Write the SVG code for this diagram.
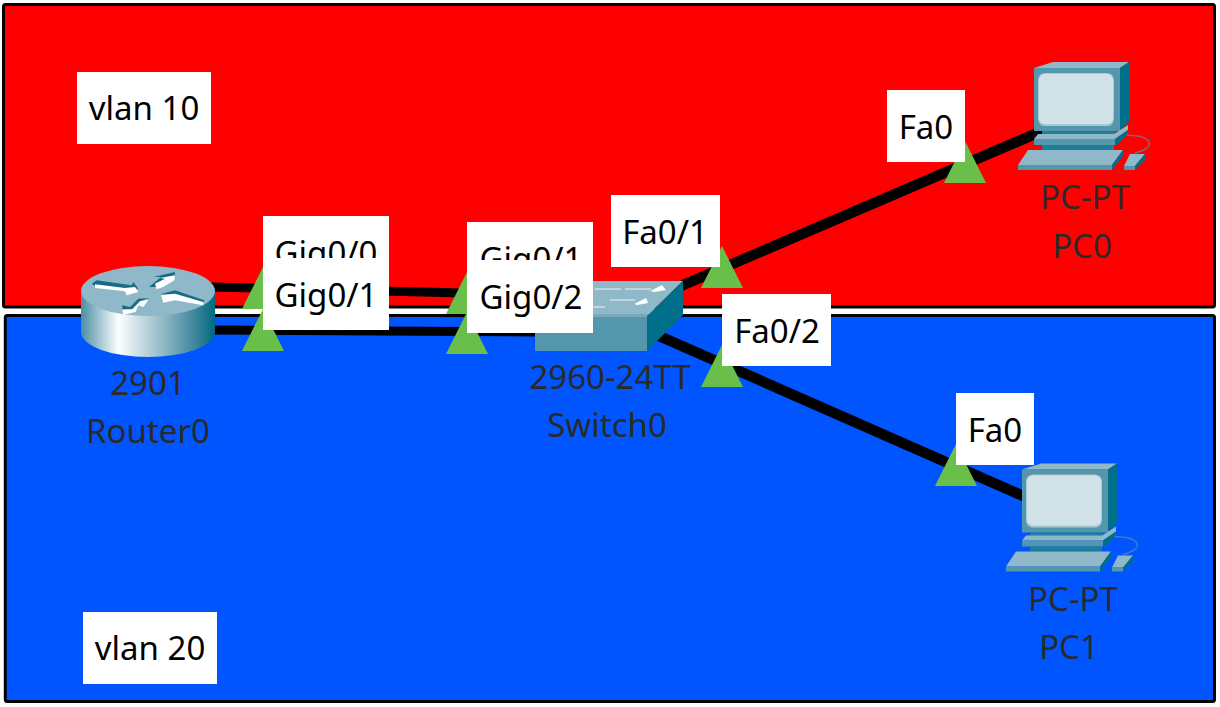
<svg xmlns="http://www.w3.org/2000/svg" xmlns:xlink="http://www.w3.org/1999/xlink" width="1220" height="707" viewBox="0 0 1220 707">
<style>
.zone{stroke:#000;stroke-width:3}
.link{stroke:#000;stroke-width:9;fill:none}
.diag{stroke-width:10.500}
.tri{fill:#6abf4b}
.box{fill:#fff}
.port{font:33px "Noto Sans","DejaVu Sans",sans-serif;fill:#000;text-anchor:middle}
.dev{font:33px "Noto Sans","DejaVu Sans",sans-serif;fill:#2a2a2a;text-anchor:middle}
.arw{fill:#fff}
.shd{fill:#1a6c85}
</style>
<defs>
<linearGradient id="cyl" x1="0" x2="1" y1="0" y2="0">
<stop offset="0" stop-color="#4a8ea3"/><stop offset="0.28" stop-color="#fdfefe"/><stop offset="0.55" stop-color="#a5c6d0"/><stop offset="0.85" stop-color="#3f879c"/><stop offset="1" stop-color="#00697f"/>
</linearGradient>
<g id="pc">
<path d="M1034 68 1053 62H1129L1120 68Z" fill="#8fb8c8"/>
<rect x="1034" y="68" width="86" height="63" fill="#5497ad"/>
<path d="M1120 68 1129 62V122L1120 131Z" fill="#006f8a"/>
<rect x="1038" y="73" width="76" height="53" rx="7" fill="#a9c9d5"/>
<rect x="1039" y="74" width="74" height="50" rx="6" fill="#d2e2e9"/>
<rect x="1042" y="131" width="73" height="4" fill="#1e7f99"/>
<path d="M1038 134H1114L1128 125V130L1115 139H1034Z" fill="#8fb8c8"/>
<rect x="1034" y="139" width="81" height="6" fill="#5497ad"/>
<path d="M1115 139 1128 130V134L1115 147Z" fill="#006f8a"/>
<rect x="1042" y="145" width="72" height="5" fill="#1e7f99"/>
<path d="M1028 150H1123L1112 165H1018Z" fill="#8fb8c8"/>
<rect x="1018" y="165" width="94" height="5" fill="#5497ad"/>
<path d="M1112 165 1123 150V156L1112 170Z" fill="#006f8a"/>
<path d="M1127 135C1138 136 1146 136 1149 142 1151 148 1142 151 1135 153" fill="none" stroke="#5a8fa5" stroke-width="1.500" opacity=".7"/>
<path d="M1130 154H1145L1135 166H1124Z" fill="#8fb8c8"/>
<rect x="1124" y="166" width="11" height="4" fill="#5497ad"/>
<path d="M1135 166 1145 154V160L1135 170Z" fill="#006f8a"/>
</g>
</defs>
<rect width="1220" height="707" fill="#fff"/>
<rect id="zone-vlan10" class="zone" x="3.500" y="4.500" width="1211" height="302.500" rx="2" fill="#ff0000"/>
<rect id="zone-vlan20" class="zone" x="5.300" y="315.500" width="1209.200" height="386" rx="2" fill="#0055ff"/>
<g id="connectors">
<path class="link" d="M210 287 465 293"/>
<path class="link" d="M210 330 540 332"/>
<path class="link diag" d="M660 295 1042 131"/>
<path class="link diag" d="M650 332 1030 499"/>
</g>
<g id="Router0">
<path d="M81 291V332A67 25 0 0 0 215 332V291Z" fill="url(#cyl)"/>
<ellipse cx="148" cy="291" rx="67" ry="25" fill="#8fb8c8"/>
<g transform="translate(75 262) scale(.3333)">
<path class="shd" d="M50 65 65 55 170 70 175 60 190 80 150 80 60 72Z"/>
<path class="arw" d="M60 67 150 78 180 75 190 90 155 100 150 88 60 78Z"/>
<path class="shd" d="M222 75 258 45 235 45 300 30 300 45 250 75Z"/>
<path class="arw" d="M300 40 298 55 265 75 245 82 240 65 270 50 255 48Z"/>
<path class="shd" d="M255 97 300 85 388 115 385 122 300 97Z"/>
<path class="arw" d="M258 100 300 95 385 120 385 130 300 115 265 122Z"/>
<path class="shd" d="M142 130 165 135 190 110 222 108 195 118 172 142 142 142Z"/>
<path class="arw" d="M142 143 172 142 195 118 220 113 205 135 190 130 182 150 145 158Z"/>
</g>
<text class="dev" x="148" y="395">2901</text>
<text class="dev" x="148" y="443">Router0</text>
</g>
<g id="Switch0">
<path d="M535 316 571 281H683L647 316Z" fill="#8fb8c8"/>
<path d="M535 316H647V351H535Z" fill="#5497ad"/>
<path d="M536 314H649L647 317H535Z" fill="#78a8ba"/>
<path d="M647 316 683 281V315L647 351Z" fill="#006f8a"/>
<path d="M595 289H621M625 289H651M610 300H635M593 307H605" stroke="#cfe0e7" stroke-width="1.500" fill="none"/>
<path d="M650 291 662 285 666 290 655 292Z M634 304 646 298 648 303 637 305Z" fill="#fff"/>
<text class="dev" x="610" y="389">2960-24TT</text>
<text class="dev" x="607" y="437">Switch0</text>
</g>
<g id="PC0">
<use href="#pc" xlink:href="#pc"/>
<text class="dev" x="1085" y="209">PC-PT</text>
<text class="dev" x="1082" y="258">PC0</text>
</g>
<g id="PC1">
<use href="#pc" xlink:href="#pc" transform="translate(-12 401.500)"/>
<text class="dev" x="1073" y="611">PC-PT</text>
<text class="dev" x="1069" y="659">PC1</text>
</g>
<g id="link-lights">
<path class="tri" d="M263 267 284 309H242Z"/>
<path class="tri" d="M263 309 284 351H242Z"/>
<path class="tri" d="M467 272 488 314H446Z"/>
<path class="tri" d="M467 312 488 354H446Z"/>
<path class="tri" d="M722 246 743 288H701Z"/>
<path class="tri" d="M722 345 743 387H701Z"/>
<path class="tri" d="M965 141 986 183H944Z"/>
<path class="tri" d="M956 444 977 486H935Z"/>
</g>
<g id="labels">
<rect class="box" x="77" y="72" width="134" height="72"/><text class="port" x="144" y="120">vlan 10</text>
<rect class="box" x="83" y="612" width="134" height="72"/><text class="port" x="150" y="660">vlan 20</text>
<rect class="box" x="263" y="216" width="126" height="72"/><text class="port" x="326" y="265">Gig0/0</text>
<rect class="box" x="263" y="258" width="126" height="72"/><text class="port" x="326" y="307">Gig0/1</text>
<rect class="box" x="467" y="222" width="126" height="72"/><text class="port" x="531" y="271">Gig0/1</text>
<rect class="box" x="467" y="260" width="126" height="73"/><text class="port" x="531" y="309">Gig0/2</text>
<rect class="box" x="611" y="195" width="109" height="72"/><text class="port" x="665" y="244">Fa0/1</text>
<rect class="box" x="722" y="294" width="109" height="72"/><text class="port" x="777" y="343">Fa0/2</text>
<rect class="box" x="887" y="90" width="78" height="72"/><text class="port" x="926" y="139">Fa0</text>
<rect class="box" x="956" y="393" width="78" height="72"/><text class="port" x="995" y="442">Fa0</text>
</g>
</svg>
